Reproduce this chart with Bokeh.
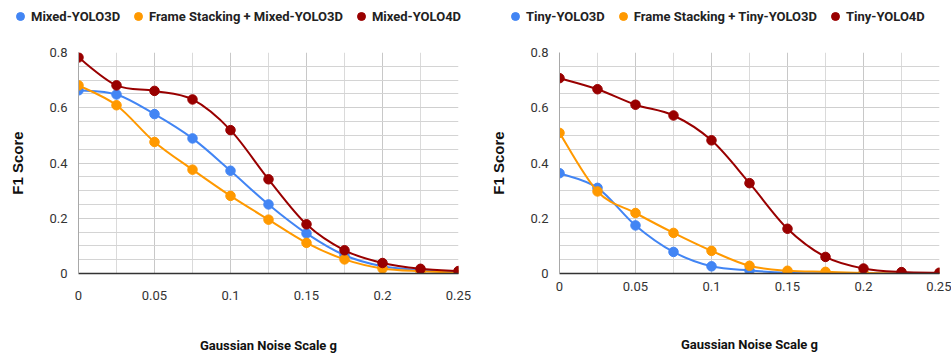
from bokeh.plotting import figure
from bokeh.models import Legend, LegendItem, FixedTicker, Range1d
from bokeh.layouts import row, column
from bokeh.embed import file_html
from bokeh.resources import INLINE

# ---------------- data ----------------
g = [0, 0.025, 0.05, 0.075, 0.1, 0.125, 0.15, 0.175, 0.2, 0.225, 0.25]

mixed_yolo3d = [0.663, 0.648, 0.577, 0.489, 0.372, 0.250, 0.145, 0.066, 0.026, 0.012, 0.005]
fs_mixed_yolo3d = [0.681, 0.609, 0.476, 0.376, 0.281, 0.195, 0.111, 0.051, 0.018, 0.008, 0.003]
mixed_yolo4d = [0.782, 0.681, 0.661, 0.630, 0.519, 0.341, 0.178, 0.084, 0.038, 0.017, 0.009]

tiny_yolo3d = [0.363, 0.310, 0.174, 0.078, 0.026, 0.011, 0.003, 0.001, 0.0, 0.0, 0.0]
fs_tiny_yolo3d = [0.509, 0.297, 0.219, 0.147, 0.082, 0.028, 0.010, 0.006, 0.002, 0.0, 0.0]
tiny_yolo4d = [0.707, 0.667, 0.611, 0.572, 0.482, 0.327, 0.162, 0.060, 0.018, 0.005, 0.003]

left_names = ["Mixed-YOLO3D", "Frame Stacking + Mixed-YOLO3D", "Mixed-YOLO4D"]
right_names = ["Tiny-YOLO3D", "Frame Stacking + Tiny-YOLO3D", "Tiny-YOLO4D"]

x_ticks = [0, 0.05, 0.1, 0.15, 0.2, 0.25]
x_tick_labels = ["0", "0.05", "0.1", "0.15", "0.2", "0.25"]
y_ticks = [0, 0.2, 0.4, 0.6, 0.8]
y_tick_labels = ["0", "0.2", "0.4", "0.6", "0.8"]
y_minor = [0.05, 0.1, 0.15, 0.25, 0.3, 0.35, 0.45, 0.5, 0.55, 0.65, 0.7, 0.75]

x_title = "Gaussian Noise Scale g"
y_title = "F1 Score"

colors = ["#4285F4", "#FF9900", "#990000"]

FONT = "Roboto"
LEG_H = 30


def bezier_segments(xs, ys, t=1.0):
    """Catmull-Rom control points for a smooth curve through the data."""
    n = len(xs)
    out = dict(x0=[], y0=[], x1=[], y1=[], cx0=[], cy0=[], cx1=[], cy1=[])
    for i in range(n - 1):
        xp, yp = (xs[i - 1], ys[i - 1]) if i > 0 else (xs[i], ys[i])
        xn, yn = (xs[i + 2], ys[i + 2]) if i + 2 < n else (xs[i + 1], ys[i + 1])
        out["x0"].append(xs[i]); out["y0"].append(ys[i])
        out["x1"].append(xs[i + 1]); out["y1"].append(ys[i + 1])
        out["cx0"].append(xs[i] + (xs[i + 1] - xp) / 6 * t)
        out["cy0"].append(ys[i] + (ys[i + 1] - yp) / 6 * t)
        out["cx1"].append(xs[i + 1] - (xn - xs[i]) / 6 * t)
        out["cy1"].append(ys[i + 1] - (yn - ys[i]) / 6 * t)
    return out


def make_legend(series, names, width, leg_x):
    # legend strip: its scatter renderers hold the series but lie outside the visible range
    lf = figure(width=width, height=LEG_H, output_backend="svg", toolbar_location=None,
                min_border=0, x_axis_type=None, y_axis_type=None,
                x_range=Range1d(10, 11), y_range=Range1d(10, 11))
    lf.outline_line_color = None
    lf.xgrid.visible = False
    lf.ygrid.visible = False
    items = []
    for ys, name, c in zip(series, names, colors):
        r = lf.scatter(x=g, y=ys, size=9, color=c)
        items.append(LegendItem(label=name, renderers=[r]))
    leg = Legend(items=items, orientation="horizontal", location=(leg_x, 4),
                 glyph_width=20, glyph_height=20, label_standoff=1, spacing=8,
                 padding=0, margin=0, border_line_color=None, background_fill_alpha=0,
                 label_text_font=FONT, label_text_font_style="bold",
                 label_text_font_size="13px", label_text_color="#222222")
    lf.add_layout(leg, "center")
    return lf


def make(series, width, bl, br, bb, xstand, xlstand):
    p = figure(width=width, height=356 - LEG_H, x_range=Range1d(0, 0.25), y_range=Range1d(0, 0.8),
               output_backend="svg", toolbar_location=None,
               min_border_left=bl, min_border_right=br, min_border_bottom=bb,
               min_border_top=52 - LEG_H)
    p.outline_line_color = None
    p.background_fill_color = "white"

    xt = FixedTicker(ticks=x_ticks, minor_ticks=[v for v in g if v not in x_ticks])
    yt = FixedTicker(ticks=y_ticks, minor_ticks=y_minor)
    p.xaxis.ticker = xt
    p.yaxis.ticker = yt
    p.xgrid.ticker = xt
    p.ygrid.ticker = yt
    p.xaxis.major_label_overrides = {v: s for v, s in zip(x_ticks, x_tick_labels)}
    p.yaxis.major_label_overrides = {v: s for v, s in zip(y_ticks, y_tick_labels)}

    p.xgrid.grid_line_color = "#c8c8c8"
    p.xgrid.minor_grid_line_color = "#dadada"
    p.ygrid.grid_line_color = "#cfcfcf"
    p.ygrid.minor_grid_line_color = "#d4d4d4"

    for ax in (p.xaxis, p.yaxis):
        ax.major_tick_line_color = None
        ax.minor_tick_line_color = None
        ax.major_label_text_font = FONT
        ax.major_label_text_font_size = "13px"
        ax.major_label_text_color = "#333333"
        ax.axis_label_text_color = "#111111"
        ax.axis_label_text_font_style = "bold"
    p.xaxis.axis_line_color = "#333333"
    p.xaxis.axis_line_width = 1.5
    p.yaxis.axis_line_color = "#a8a8a8"
    p.xaxis.major_label_standoff = xstand
    p.yaxis.major_label_standoff = 5

    p.xaxis.axis_label = x_title
    p.xaxis.axis_label_text_font = FONT
    p.xaxis.axis_label_text_font_size = "13px"
    p.xaxis.axis_label_standoff = xlstand
    p.yaxis.axis_label = y_title
    p.yaxis.axis_label_text_font = "Liberation Sans"
    p.yaxis.axis_label_text_font_size = "15px"
    p.yaxis.axis_label_standoff = 20

    for ys, c in zip(series, colors):
        p.bezier(source=bezier_segments(g, ys), x0="x0", y0="y0", x1="x1", y1="y1",
                 cx0="cx0", cy0="cy0", cx1="cx1", cy1="cy1", line_color=c, line_width=2)
        p.scatter(g, ys, size=9.5, color=c)
    return p


left_series = [mixed_yolo3d, fs_mixed_yolo3d, mixed_yolo4d]
right_series = [tiny_yolo3d, fs_tiny_yolo3d, tiny_yolo4d]

p1 = make(left_series, 475, 78, 17, 83, 11, 35)
p2 = make(right_series, 476, 84, 12, 81, 2, 43)
l1 = make_legend(left_series, left_names, 475, 10)
l2 = make_legend(right_series, right_names, 476, 30)

layout = column(row(l1, l2), row(p1, p2))
open("out.html", "w").write(file_html(layout, INLINE))
